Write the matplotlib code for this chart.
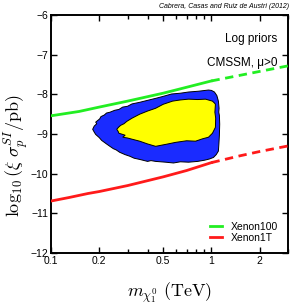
import matplotlib
matplotlib.use("Agg")
import matplotlib.pyplot as plt

plt.rcParams['font.family'] = ['Liberation Sans', 'DejaVu Sans']
plt.rcParams['mathtext.fontset'] = 'cm'

# Xenon100 limit (solid up to 1 TeV, dashed beyond)
x100_solid = [0.1, 0.15, 0.2, 0.3, 0.5, 0.7, 1.0]
y100_solid = [-8.54, -8.43, -8.32, -8.17, -7.97, -7.82, -7.66]
x100_dash = [1.0, 1.5, 2.0, 3.0]
y100_dash = [-7.66, -7.52, -7.42, -7.28]

# Xenon1T projection
x1t_solid = [0.1, 0.13, 0.17, 0.2, 0.3, 0.5, 0.7, 1.0]
y1t_solid = [-10.69, -10.60, -10.50, -10.45, -10.30, -10.08, -9.92, -9.72]
x1t_dash = [1.0, 1.5, 2.0, 3.0]
y1t_dash = [-9.72, -9.55, -9.44, -9.30]

# 2-sigma (blue) region outline
blue_x = [0.182, 0.186, 0.193, 0.190, 0.201, 0.205, 0.215, 0.222, 0.233, 0.250,
          0.265, 0.280, 0.300, 0.320, 0.357, 0.400, 0.449, 0.500, 0.564, 0.640,
          0.720, 0.830, 0.958, 1.000, 1.043, 1.080, 1.104, 1.115, 1.110, 1.120,
          1.125, 1.120, 1.112, 1.104, 1.070, 1.029, 0.970, 0.905, 0.820, 0.720,
          0.640, 0.580, 0.518, 0.449, 0.420, 0.400, 0.357, 0.330, 0.310, 0.290,
          0.268, 0.255, 0.245, 0.233, 0.222, 0.207, 0.200, 0.190, 0.186]
blue_y = [-8.88, -8.80, -8.74, -8.70, -8.62, -8.56, -8.52, -8.47, -8.45, -8.40,
          -8.38, -8.32, -8.30, -8.24, -8.20, -8.15, -8.10, -8.05, -7.99, -7.97,
          -7.94, -7.92, -7.89, -7.90, -7.94, -8.03, -8.17, -8.35, -8.45, -8.53,
          -8.75, -9.03, -9.25, -9.43, -9.52, -9.59, -9.63, -9.66, -9.69, -9.71,
          -9.70, -9.73, -9.71, -9.69, -9.67, -9.69, -9.64, -9.61, -9.56, -9.52,
          -9.46, -9.40, -9.37, -9.31, -9.25, -9.16, -9.09, -9.01, -8.95]

# 1-sigma (yellow) region outline
yel_x = [0.257, 0.265, 0.272, 0.285, 0.297, 0.320, 0.357, 0.400, 0.449, 0.500,
         0.572, 0.640, 0.720, 0.820, 0.918, 1.014, 1.045, 1.058, 1.050, 1.062,
         1.058, 1.014, 0.958, 0.880, 0.796, 0.700, 0.598, 0.520, 0.449, 0.400,
         0.357, 0.320, 0.300, 0.280, 0.290, 0.275, 0.265, 0.262]
yel_y = [-8.88, -8.82, -8.78, -8.74, -8.68, -8.60, -8.50, -8.42, -8.35, -8.25,
         -8.17, -8.14, -8.12, -8.13, -8.12, -8.17, -8.22, -8.25, -8.45, -8.60,
         -8.83, -8.98, -9.08, -9.12, -9.18, -9.17, -9.21, -9.26, -9.31, -9.25,
         -9.18, -9.13, -9.10, -9.08, -9.03, -9.00, -8.98, -8.93]

xticks = [0.1, 0.2, 0.5, 1, 2]
xticklabels = ['0.1', '0.2', '0.5', '1', '2']
yticks = [-12, -11, -10, -9, -8, -7, -6]

fig = plt.figure(figsize=(2.91, 3.08), dpi=100)
ax = fig.add_axes([0.175, 0.1786, 0.815, 0.7724])

ax.fill(blue_x, blue_y, facecolor='#1a2bff', edgecolor='black', linewidth=0.7, zorder=2)
ax.fill(yel_x, yel_y, facecolor='#ffff00', edgecolor='black', linewidth=0.7, zorder=3)

ax.plot(x100_solid, y100_solid, color='#22ee22', lw=2.0, label='Xenon100', zorder=4)
ax.plot(x100_dash, y100_dash, color='#22ee22', lw=2.0, ls=(0, (3, 2)), zorder=4)
ax.plot(x1t_solid, y1t_solid, color='#ff1a1a', lw=2.0, label='Xenon1T', zorder=4)
ax.plot(x1t_dash, y1t_dash, color='#ff1a1a', lw=2.0, ls=(0, (3, 2)), zorder=4)

ax.set_xscale('log')
ax.set_xlim(0.1, 3.0)
ax.set_ylim(-12, -6)
ax.set_xticks(xticks)
ax.set_xticklabels(xticklabels)
ax.set_yticks(yticks)
ax.set_yticklabels(['\u221212', '\u221211', '\u221210', '\u22129', '\u22128', '\u22127', '\u22126'])
ax.minorticks_on()
ax.yaxis.set_minor_locator(matplotlib.ticker.NullLocator())
ax.xaxis.set_minor_formatter(matplotlib.ticker.NullFormatter())
ax.tick_params(which='both', direction='in', top=True, right=True, labelsize=7.5, pad=2)
ax.tick_params(which='major', length=4, width=1)
ax.tick_params(which='minor', length=3, width=1)
for s in ax.spines.values():
    s.set_linewidth(1.4)

ax.set_xlabel(r'$m_{\chi_1^0}\ \mathrm{(TeV)}$', fontsize=13, labelpad=11)
ax.set_ylabel(r'$\log_{10}(\xi\ \sigma_p^{SI}/\mathrm{pb})$', fontsize=13)
ax.yaxis.set_label_coords(-0.085, 0.41)

ax.text(0.954, 0.899, 'Log priors', transform=ax.transAxes, ha='right', va='center', fontsize=8.5)
ax.text(0.954, 0.798, 'CMSSM, \u03bc>0', transform=ax.transAxes, ha='right', va='center', fontsize=8.5)

ax.legend(loc='lower right', bbox_to_anchor=(0.975, 0.025), frameon=False, fontsize=7.5,
          handlelength=1.2, handletextpad=0.8, labelspacing=0.1, borderaxespad=0)

fig.text(0.995, 0.99, 'Cabrera, Casas and Ruiz de Austri (2012)', ha='right', va='top',
         fontsize=5, style='italic')

fig.savefig('out.png', dpi=100)
